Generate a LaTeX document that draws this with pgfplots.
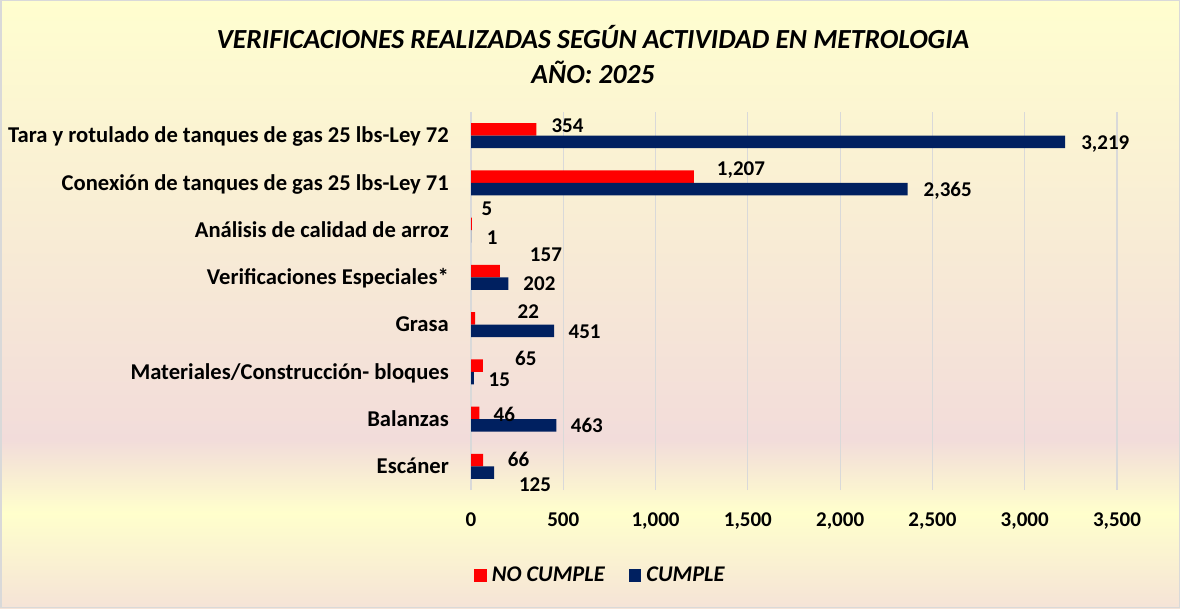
\documentclass[border=0pt]{standalone}
\usepackage{fontspec}
\setmainfont{Carlito}
\usepackage{pgfplots}
\usepackage{pgfplotstable}
\pgfplotsset{compat=1.18}
\definecolor{bgtop}{RGB}{255,254,207}
\definecolor{bgpink}{RGB}{242,220,218}
\definecolor{bgyel}{RGB}{255,255,204}
\definecolor{bgbot}{RGB}{245,227,215}
\definecolor{barred}{RGB}{255,0,0}
\definecolor{barblue}{RGB}{0,32,96}
\definecolor{gridc}{RGB}{217,217,217}
\pgfdeclareverticalshading{chartbg}{100bp}{color(0bp)=(bgbot); color(25bp)=(bgbot); color(32.8bp)=(bgyel); color(38.8bp)=(bgpink); color(75bp)=(bgtop); color(100bp)=(bgtop)}

% NO CUMPLE (dx, ty: label offsets in pt from the category centre at the bar end)
\pgfplotstableread{
y val dx ty
7 354 15 10.1
6 1207 23 13.7
5 5 9.6 20.9
4 157 29.8 22.3
3 22 42.4 13
2 65 32 13
1 46 14 4.3
0 66 24.6 6.3
}\rednc
% CUMPLE
\pgfplotstableread{
y val dx ty
7 3219 16 -6.9
6 2365 16 -6.9
5 1 15.4 -7.5
4 202 15 -6.8
3 451 14.2 -7.3
2 15 14.7 -7.6
1 463 14.2 -7
0 125 24.8 -18.7
}\bluec

\begin{document}
\begin{tikzpicture}
\shade[shading=chartbg] (0pt,0pt) rectangle (1180pt,608pt);
\draw[gridc, line width=1.5pt] (0.75pt,0.75pt) rectangle (1179.25pt,607.25pt);
\node[font=\fontsize{27.6}{32}\selectfont\bfseries\itshape, anchor=base, inner sep=0pt] at (593pt,559pt) {VERIFICACIONES REALIZADAS SEGÚN ACTIVIDAD EN METROLOGIA};
\node[font=\fontsize{27.6}{32}\selectfont\bfseries\itshape, anchor=base, inner sep=0pt] at (593pt,524.7pt) {AÑO: 2025};
\begin{axis}[
  at={(471pt,118pt)}, anchor=south west,
  scale only axis, width=646pt, height=378pt,
  xmin=0, xmax=3500, ymin=-0.5, ymax=7.5,
  xtick={0,500,...,3500},
  ytick={0,...,7},
  yticklabels={Escáner, Balanzas, Materiales/Construcción- bloques, Grasa, Verificaciones Especiales*, Análisis de calidad de arroz, Conexión de tanques de gas 25 lbs-Ley 71, Tara y rotulado de tanques de gas 25 lbs-Ley 72},
  axis line style={draw=none},
  major tick length=0pt,
  xmajorgrids, grid style={gridc, line width=1.2pt},
  /pgf/number format/1000 sep={,},
  /pgf/number format/assume math mode=true,
  /pgf/number format/fixed,
  /pgf/number format/precision=0,
  xticklabel style={font=\fontsize{21}{25}\selectfont\bfseries, anchor=base, inner sep=0pt, yshift=-36.7pt},
  yticklabel style={font=\fontsize{22.6}{26}\selectfont\bfseries, anchor=base east, inner sep=0pt, xshift=-22pt, yshift=-7.3pt},
  legend style={at={(0.0046,-0.2257)}, anchor=west, draw=none, fill=none, inner sep=0pt,
    font=\fontsize{22.4}{26}\selectfont\bfseries\itshape,
    /tikz/every odd column/.append style={column sep=3pt},
    /tikz/every even column/.append style={column sep=22pt}},
  legend columns=2,
  clip=false,
]
\addplot[xbar, bar width=12.5pt, bar shift=6.3pt, fill=barred, draw=none,
  point meta=x, nodes near coords,
  visualization depends on={\thisrow{dx} \as \dx},
  visualization depends on={\thisrow{ty} \as \ty},
  nodes near coords style={font=\fontsize{21}{25}\selectfont\bfseries, text=black, anchor=base west, inner sep=0pt, xshift={\dx*1pt}, yshift={(\ty-6.6)*1pt}},
  legend image code/.code={\fill[barred] (0pt,-6.35pt) rectangle (12.7pt,6.35pt);}
] table[x=val, y=y] {\rednc};
\addlegendentry{NO CUMPLE}
\addplot[xbar, bar width=12.5pt, bar shift=-6.3pt, fill=barblue, draw=none,
  point meta=x, nodes near coords,
  visualization depends on={\thisrow{dx} \as \dx},
  visualization depends on={\thisrow{ty} \as \ty},
  nodes near coords style={font=\fontsize{21}{25}\selectfont\bfseries, text=black, anchor=base west, inner sep=0pt, xshift={\dx*1pt}, yshift={(\ty-6.6)*1pt}},
  legend image code/.code={\fill[barblue] (0pt,-6.35pt) rectangle (12.7pt,6.35pt);}
] table[x=val, y=y] {\bluec};
\addlegendentry{CUMPLE}
\end{axis}
\pgfresetboundingbox
\useasboundingbox (0pt,0pt) rectangle (1180pt,608pt);
\end{tikzpicture}
\end{document}
